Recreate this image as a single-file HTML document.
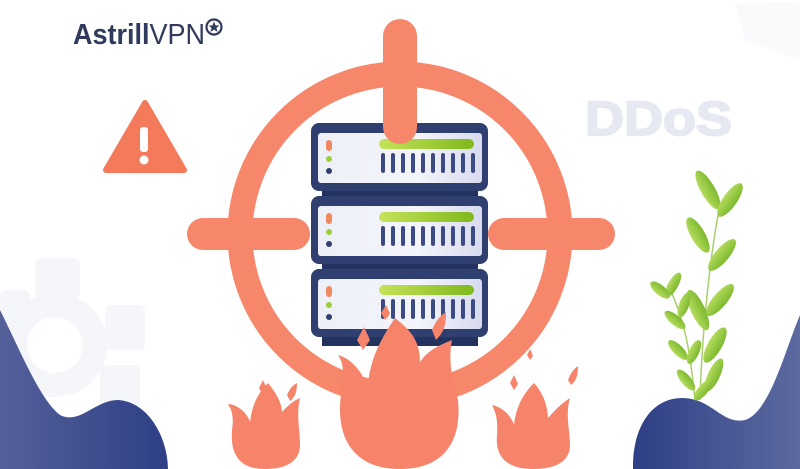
<!DOCTYPE html>
<html><head><style>html,body{margin:0;padding:0;background:#fff}svg{display:block}</style></head>
<body>
<svg width="800" height="469" viewBox="0 0 800 469" xmlns="http://www.w3.org/2000/svg">
<defs>
<linearGradient id="blueL" x1="0" x2="1"><stop offset="0" stop-color="#55609a"/><stop offset="1" stop-color="#2e3f86"/></linearGradient>
<linearGradient id="blueR" x1="0" x2="1"><stop offset="0" stop-color="#2e3f86"/><stop offset="1" stop-color="#5d6aa0"/></linearGradient>
<linearGradient id="green" x1="0" x2="1"><stop offset="0" stop-color="#c6e35a"/><stop offset="1" stop-color="#7fb81c"/></linearGradient>
<linearGradient id="panel" x1="0" x2="1"><stop offset="0" stop-color="#eef0f8"/><stop offset="0.6" stop-color="#f4f5fb"/><stop offset="1" stop-color="#d7dbee"/></linearGradient>
<linearGradient id="leaf" x1="0" x2="1"><stop offset="0" stop-color="#b5dc5e"/><stop offset="1" stop-color="#7cb82e"/></linearGradient>
<g id="unit">
<rect x="311" y="0" width="177" height="68" rx="8" fill="#2f3f70"/>
<rect x="318" y="10" width="164" height="50" rx="3" fill="url(#panel)"/>
<rect x="326" y="17" width="6" height="11" rx="3" fill="#f08860"/>
<circle cx="329" cy="36" r="3" fill="#9ccf3a"/>
<circle cx="329" cy="48" r="3" fill="#2f3f70"/>
<rect x="379" y="16" width="95" height="10" rx="5" fill="url(#green)"/>
<g fill="#3c4a85">
<rect x="381" y="30" width="4" height="20" rx="2"/><rect x="391" y="30" width="4" height="20" rx="2"/><rect x="401" y="30" width="4" height="20" rx="2"/><rect x="411" y="30" width="4" height="20" rx="2"/><rect x="421" y="30" width="4" height="20" rx="2"/><rect x="431" y="30" width="4" height="20" rx="2"/><rect x="441" y="30" width="4" height="20" rx="2"/><rect x="451" y="30" width="4" height="20" rx="2"/><rect x="461" y="30" width="4" height="20" rx="2"/><rect x="471" y="30" width="4" height="20" rx="2"/>
</g>
</g>
</defs>

<!-- background decor -->
<path d="M735 5 Q800 0 800 5 L800 60 Q770 50 745 40 Z" fill="#fafafc"/>
<g fill="#f5f6fa">
<circle cx="55" cy="345" r="52"/>
<rect x="35" y="258" width="45" height="40" rx="6"/>
<rect x="105" y="305" width="40" height="45" rx="6"/>
<rect x="100" y="365" width="40" height="40" rx="6"/>
<rect x="0" y="290" width="30" height="40" rx="6"/>
</g>
<circle cx="55" cy="345" r="28" fill="#fff"/>
<text x="585" y="135" textLength="147" lengthAdjust="spacingAndGlyphs" font-family="Liberation Sans, sans-serif" font-weight="bold" font-size="48" fill="#e7e9f2" stroke="#e7e9f2" stroke-width="2">DDoS</text>

<path d="M0 310 C20 350 40 400 60 415 C80 425 95 400 118 400 C150 402 168 440 168 469 L0 469 Z" fill="url(#blueL)"/>
<path d="M633 469 C632 430 650 398 682 398 C712 398 722 425 745 420 C770 412 785 350 800 315 L800 469 Z" fill="url(#blueR)"/>

<!-- plant -->
<g fill="none" stroke="#a9cf6a" stroke-width="1.5">
<path d="M700 400 C702 330 710 260 718 215"/>
<path d="M695 400 C690 350 685 320 668 285"/>
</g>
<g fill="url(#leaf)">
<ellipse cx="708" cy="190" rx="7" ry="22" transform="rotate(-30 708 190)"/>
<ellipse cx="730" cy="200" rx="7" ry="20" transform="rotate(35 730 200)"/>
<ellipse cx="698" cy="235" rx="7" ry="20" transform="rotate(-30 698 235)"/>
<ellipse cx="722" cy="255" rx="7" ry="20" transform="rotate(40 722 255)"/>
<ellipse cx="673" cy="285" rx="5" ry="14" transform="rotate(30 673 285)"/>
<ellipse cx="660" cy="290" rx="5" ry="12" transform="rotate(-50 660 290)"/>
<ellipse cx="698" cy="310" rx="7" ry="22" transform="rotate(-25 698 310)"/>
<ellipse cx="720" cy="300" rx="7" ry="20" transform="rotate(40 720 300)"/>
<ellipse cx="684" cy="305" rx="5" ry="13" transform="rotate(20 684 305)"/>
<ellipse cx="675" cy="320" rx="5" ry="13" transform="rotate(-50 675 320)"/>
<ellipse cx="715" cy="345" rx="7" ry="20" transform="rotate(30 715 345)"/>
<ellipse cx="678" cy="350" rx="5" ry="13" transform="rotate(-45 678 350)"/>
<ellipse cx="694" cy="352" rx="5" ry="13" transform="rotate(25 694 352)"/>
<ellipse cx="714" cy="375" rx="6" ry="18" transform="rotate(25 714 375)"/>
<ellipse cx="686" cy="380" rx="5" ry="13" transform="rotate(-40 686 380)"/>
<ellipse cx="703" cy="390" rx="5" ry="13" transform="rotate(40 703 390)"/>
</g>

<!-- logo -->
<text x="73" y="44" textLength="132" lengthAdjust="spacingAndGlyphs" font-family="Liberation Sans, sans-serif" font-size="29" fill="#2f3a5c"><tspan font-weight="bold">Astrill</tspan>VPN</text>
<circle cx="214" cy="27" r="7.5" fill="none" stroke="#2f3a5c" stroke-width="2.2"/>
<path d="M214 21.5 L215.6 25.5 L219.5 25.5 L216.4 28 L217.6 32 L214 29.6 L210.4 32 L211.6 28 L208.5 25.5 L212.4 25.5Z" fill="#2f3a5c"/>

<!-- warning -->
<path d="M145 103 L184 170 L106 170 Z" fill="#f47a5c" stroke="#f47a5c" stroke-width="6" stroke-linejoin="round"/>
<rect x="140" y="127" width="8" height="25" rx="3" fill="#fff"/>
<circle cx="144" cy="160" r="4.5" fill="#fff"/>

<!-- crosshair -->
<circle cx="400" cy="234" r="160" fill="none" stroke="#f6876a" stroke-width="25"/>
<rect x="187" y="218" width="123" height="32" rx="16" fill="#f6876a"/>
<rect x="488" y="218" width="127" height="32" rx="16" fill="#f6876a"/>

<!-- server -->
<rect x="322" y="180" width="156" height="20" fill="#23325f"/>
<rect x="322" y="253" width="156" height="20" fill="#23325f"/>
<rect x="322" y="326" width="156" height="20" fill="#23325f"/>
<use href="#unit" transform="translate(0 123)"/>
<use href="#unit" transform="translate(0 196)"/>
<use href="#unit" transform="translate(0 269)"/>
<rect x="383" y="19" width="34" height="125" rx="17" fill="#f6876a"/>

<!-- flames -->
<g fill="#f6846a">
<path d="M400 469 C355 469 340 440 340 410 C340 385 348 370 338 355 C355 360 362 375 368 385 C370 360 380 340 395 318 C410 330 420 340 420 362 C428 350 440 345 452 340 C448 360 452 380 458 400 C462 440 445 469 400 469Z"/>
<path d="M265 469 C240 469 230 455 232 430 C234 418 232 410 228 404 C240 405 248 415 250 422 C252 405 258 393 268 383 C278 395 282 405 282 412 C288 405 295 400 300 398 C296 415 300 430 300 445 C300 460 288 469 265 469Z"/>
<path d="M533 469 C505 469 495 455 497 435 C498 420 496 413 492 405 C505 408 512 418 514 425 C516 408 522 395 534 383 C545 395 548 410 548 418 C555 410 562 403 570 398 C565 415 570 430 570 445 C570 460 558 469 533 469Z"/>
<path d="M357 340 L364 327 L370 340 L363 350Z"/>
<path d="M381 313 L386 305 L390 314 L385 320Z"/>
<path d="M432 330 C436 320 440 316 446 312 C446 325 444 332 436 340Z"/>
<path d="M259 388 L263 380 L267 389 L263 395Z"/>
<path d="M287 395 C290 388 293 385 297 383 C297 392 295 397 290 401Z"/>
<path d="M510 383 L514 375 L518 384 L514 390Z"/>
<path d="M568 380 C571 372 574 369 578 366 C578 376 576 381 571 385Z"/>
<path d="M527 355 L530 349 L533 356 L530 360Z"/>
</g>
</svg>
</body></html>
